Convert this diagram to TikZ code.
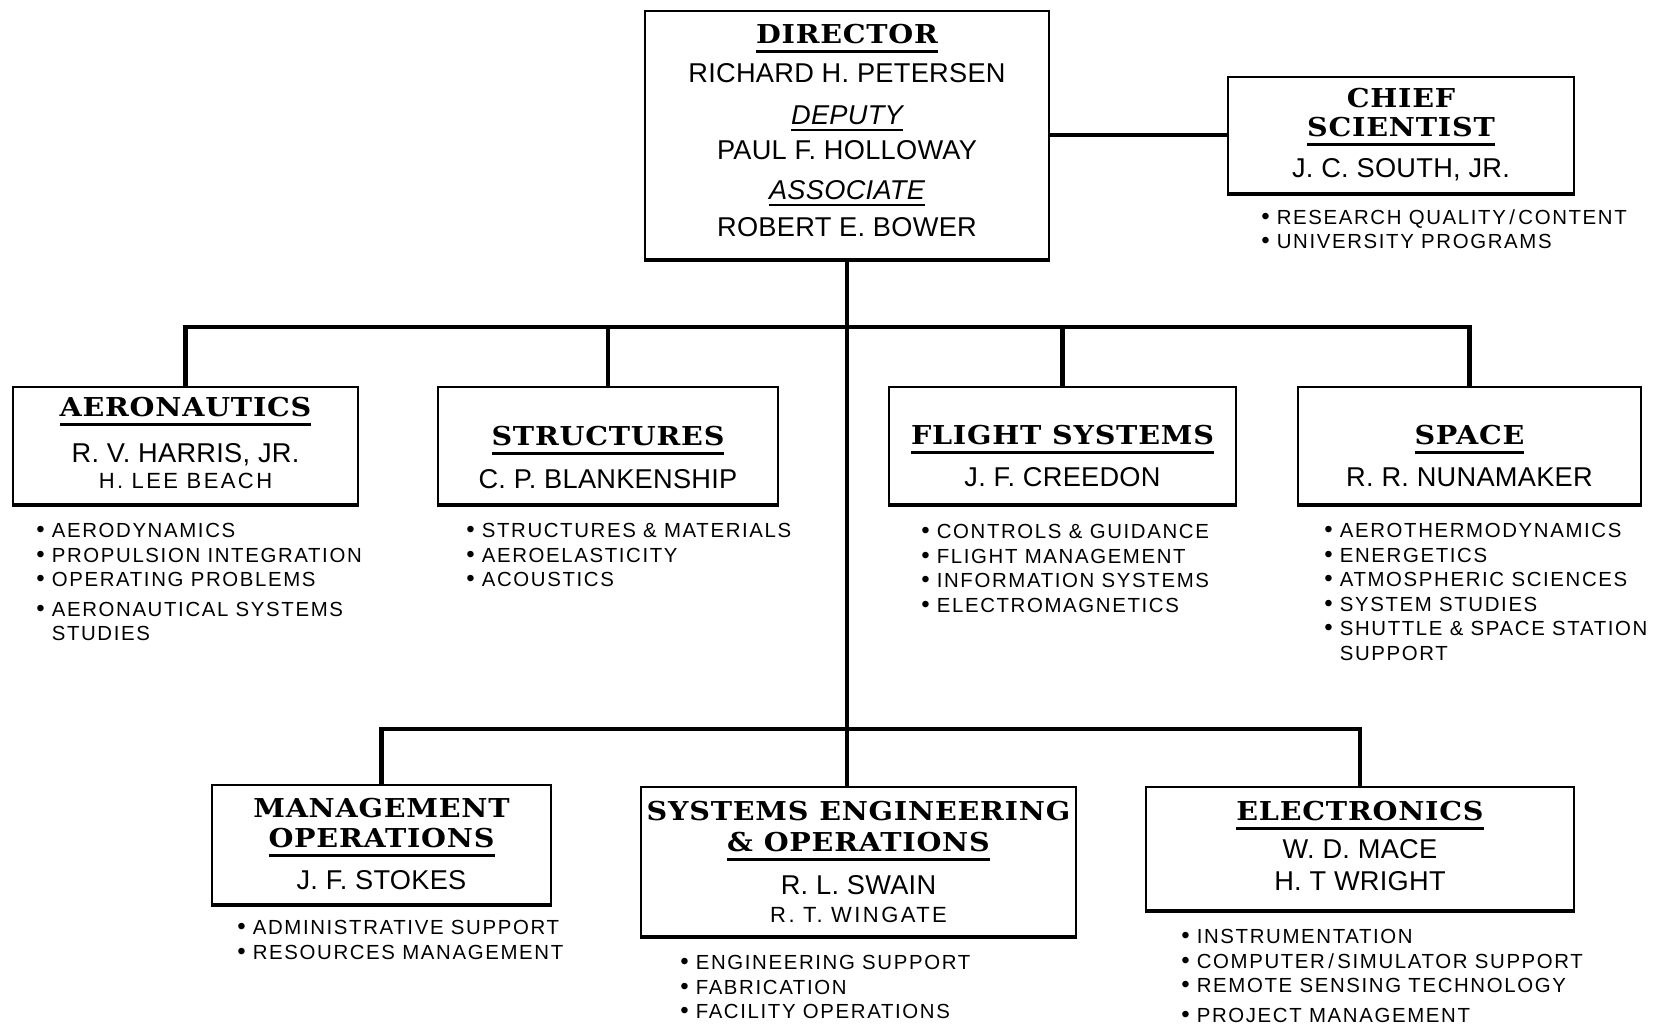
\documentclass[tikz,border=0pt]{standalone}
\usepackage{fontspec}
\setmainfont{Liberation Sans}
\newfontfamily\namefont[LetterSpace=1]{Liberation Sans}
\newfontfamily\ttlfont[FakeStretch=1.1,LetterSpace=3]{DejaVu Serif}
\newfontfamily\dutyfont[LetterSpace=8]{Liberation Sans}
\newfontfamily\minorfont[LetterSpace=11]{Liberation Sans}
\usetikzlibrary{positioning}

\newsavebox\ulbox
\newcommand{\undl}[1]{\sbox\ulbox{#1}\rlap{\rule[-4.5pt]{\wd\ulbox}{1.3pt}}\usebox\ulbox}
\newcommand{\undi}[1]{\sbox\ulbox{#1}\rlap{\rule[-3pt]{\wd\ulbox}{0.9pt}}\usebox\ulbox}
\newcommand{\ttl}[1]{{\ttlfont\bfseries\fontsize{13}{14.5}\selectfont #1}}
\newcommand{\minor}[1]{{\minorfont\fontsize{11}{12}\selectfont #1}}
\newcommand{\bul}{{\fontsize{12}{12}\selectfont\textbullet}\hspace{3.5pt}}

\begin{document}
\begin{tikzpicture}[x=1pt, y=1pt,
    unitbox/.style={draw, line width=1pt, inner sep=0pt},
    head/.style={align=center, inner sep=0pt, font=\namefont\fontsize{13.6}{17}\selectfont},
    duties/.style={align=left, inner sep=0pt, font=\dutyfont\fontsize{10.2}{12.25}\selectfont},
    link/.style={line width=2.2pt}]
  \useasboundingbox (0,0) rectangle (833.5,-513.5);

  % boxes
  \node[unitbox, minimum width=202pt, minimum height=124pt] (dir) at (423.5,-67.5) {};
  \node[unitbox, minimum width=173pt, minimum height=58pt] (chief) at (700.5,-67.5) {};
  \node[unitbox, minimum width=172.5pt, minimum height=58.5pt] (aero) at (92.75,-222.75) {};
  \node[unitbox, minimum width=170pt, minimum height=58.5pt] (struct) at (304,-222.75) {};
  \node[unitbox, minimum width=173.5pt, minimum height=58.5pt] (flight) at (531.25,-222.75) {};
  \node[unitbox, minimum width=171.5pt, minimum height=58.5pt] (space) at (734.75,-222.75) {};
  \node[unitbox, minimum width=169.5pt, minimum height=59.5pt] (mgmt) at (190.75,-422.25) {};
  \node[unitbox, minimum width=217.5pt, minimum height=74.5pt] (sys) at (429.25,-430.75) {};
  \node[unitbox, minimum width=214pt, minimum height=61.5pt] (elec) at (680,-424.25) {};

  % titles and names
  \node[head, below=7pt of dir.north] (dirtxt) {\ttl{\undl{DIRECTOR}}\\[2.5pt]
    RICHARD H. PETERSEN\\[4pt]
    \undi{\itshape DEPUTY}\\[0.5pt]
    PAUL F. HOLLOWAY\\[3pt]
    \undi{\itshape ASSOCIATE}\\[1.5pt]
    ROBERT E. BOWER};
  \node[head, below=6pt of chief.north] (chieftxt) {\ttl{CHIEF}\\[-2.5pt]
    \ttl{\undl{SCIENTIST}}\\[3.5pt] J. C. SOUTH, JR.};
  \node[head, below=5.5pt of aero.north] (aerotxt) {\ttl{\undl{AERONAUTICS}}\\[6pt]
    R. V. HARRIS, JR.\\[-4pt] \minor{H. LEE BEACH}};
  \node[head, below=20pt of struct.north] (structtxt) {\ttl{\undl{STRUCTURES}}\\[4.5pt]
    C. P. BLANKENSHIP};
  \node[head, below=19.5pt of flight.north] (flighttxt) {\ttl{\undl{FLIGHT SYSTEMS}}\\[4pt]
    J. F. CREEDON};
  \node[head, below=19.5pt of space.north] (spacetxt) {\ttl{\undl{SPACE}}\\[4pt]
    R. R. NUNAMAKER};
  \node[head, below=7pt of mgmt.north] (mgmttxt) {\ttl{MANAGEMENT}\\[-2pt]
    \ttl{\undl{OPERATIONS}}\\[4pt] J. F. STOKES};
  \node[head, below=7.5pt of sys.north] (systxt) {\ttl{SYSTEMS ENGINEERING}\\[-1.5pt]
    \ttl{\undl{\& OPERATIONS}}\\[4.5pt] R. L. SWAIN\\[-3pt] \minor{R. T. WINGATE}};
  \node[head, below=7.5pt of elec.north] (electxt) {\ttl{\undl{ELECTRONICS}}\\[2pt]
    W. D. MACE\\[-1pt] H. T WRIGHT};

  % duties
  \node[duties, below right=7.5pt and 17pt of chief.south west] (chieflist)
    {\bul RESEARCH QUALITY\,/\,CONTENT\\ \bul UNIVERSITY PROGRAMS};
  \node[duties, below right=9pt and 12pt of aero.south west] (aerolist)
    {\bul AERODYNAMICS\\ \bul PROPULSION INTEGRATION\\ \bul OPERATING PROBLEMS\\[2.5pt]
     \bul AERONAUTICAL SYSTEMS\\ \hphantom{\bul}STUDIES};
  \node[duties, below right=9pt and 14.5pt of struct.south west] (structlist)
    {\bul STRUCTURES \& MATERIALS\\ \bul AEROELASTICITY\\ \bul ACOUSTICS};
  \node[duties, below right=9.5pt and 16.5pt of flight.south west] (flightlist)
    {\bul CONTROLS \& GUIDANCE\\ \bul FLIGHT MANAGEMENT\\ \bul INFORMATION SYSTEMS\\
     \bul ELECTROMAGNETICS};
  \node[duties, below right=9pt and 13.5pt of space.south west] (spacelist)
    {\bul AEROTHERMODYNAMICS\\ \bul ENERGETICS\\ \bul ATMOSPHERIC SCIENCES\\
     \bul SYSTEM STUDIES\\ \bul SHUTTLE \& SPACE STATION\\ \hphantom{\bul}SUPPORT};
  \node[duties, below right=7.5pt and 13pt of mgmt.south west] (mgmtlist)
    {\bul ADMINISTRATIVE SUPPORT\\ \bul RESOURCES MANAGEMENT};
  \node[duties, below right=9pt and 20pt of sys.south west] (syslist)
    {\bul ENGINEERING SUPPORT\\ \bul FABRICATION\\ \bul FACILITY OPERATIONS};
  \node[duties, below right=9pt and 18pt of elec.south west] (eleclist)
    {\bul INSTRUMENTATION\\ \bul COMPUTER\,/\,SIMULATOR SUPPORT\\
     \bul REMOTE SENSING TECHNOLOGY\\[2.5pt] \bul PROJECT MANAGEMENT};

  % heavy bottom edges
  \foreach \b in {dir,chief,aero,struct,flight,space,mgmt,sys,elec}
    \draw[line width=2.4pt] (\b.south west) -- (\b.south east);

  % connectors
  \coordinate (bus1) at (423.5,-163.5);
  \coordinate (bus2) at (423.5,-364.5);
  \draw[link] (dir.south) -- (dir.south |- sys.north);
  \draw[link] (chief.west) -- (chief.west -| dir.east);
  \draw[link] (aero.north) |- (bus1) -| (space.north);
  \draw[link] (struct.north) -- (struct.north |- bus1);
  \draw[link] (flight.north) -- (flight.north |- bus1);
  \draw[link] (mgmt.north) |- (bus2) -| (elec.north);
\end{tikzpicture}
\end{document}
